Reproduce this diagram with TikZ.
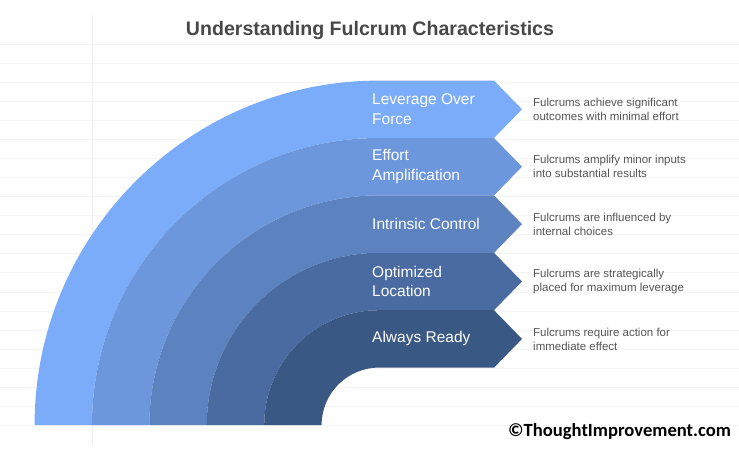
\documentclass[tikz,border=0pt]{standalone}
\usepackage{fontspec}
\setmainfont{Liberation Sans}
\newfontfamily\wmfont{Carlito}
\definecolor{bandA}{HTML}{7BACFA}
\definecolor{bandB}{HTML}{6C97DD}
\definecolor{bandC}{HTML}{5D82C0}
\definecolor{bandD}{HTML}{4A6BA1}
\definecolor{bandE}{HTML}{3A5884}
\definecolor{titlegray}{HTML}{484848}
\definecolor{descgray}{HTML}{555555}
\definecolor{paperline}{HTML}{F4F4F4}
\definecolor{marginline}{HTML}{F6ECEE}
\newcommand\fulband[3]{%
  \fill[#3] (379-#1,26) arc[start angle=180,end angle=90,radius=#1pt]
    -- (494,26+#1) -- (522,{26+(#1+#2)/2}) -- (494,26+#2) -- (379,26+#2)
    arc[start angle=90,end angle=180,radius=#2pt] -- cycle;}
\begin{document}
\begin{tikzpicture}[x=1pt,y=1pt,
  labeltext/.style={anchor=west,align=left,inner sep=0pt,text=white,font=\fontsize{15.5}{19.5}\selectfont},
  desctext/.style={anchor=west,align=left,inner sep=0pt,text=descgray,font=\fontsize{11.5}{14}\selectfont}]
\useasboundingbox (0,0) rectangle (739,451);
\fill[white] (0,0) rectangle (739,451);
\foreach \k in {0,...,20} {\draw[paperline,line width=0.8pt] (0,{451-44-19.07*\k}) -- (739,{451-44-19.07*\k});}
\draw[marginline,line width=0.8pt] (92,6) -- (92,436);
\node[font=\bfseries\fontsize{19.6}{23}\selectfont,text=titlegray] (title) at (370,421) {Understanding Fulcrum Characteristics};
\fulband{344.4}{287}{bandA}
\fulband{287}{229.6}{bandB}
\fulband{229.6}{172.2}{bandC}
\fulband{172.2}{114.8}{bandD}
\fulband{114.8}{57.4}{bandE}
\node[labeltext] (lab1) at (372,341.7) {Leverage Over\\Force};
\node[labeltext] (lab2) at (372,284.3) {Effort\\Amplification};
\node[labeltext] (lab3) at (372,226.9) {Intrinsic Control};
\node[labeltext] (lab4) at (372,169.5) {Optimized\\Location};
\node[labeltext] (lab5) at (372,112.1) {Always Ready};
\node[desctext] (desc1) at (533,341.7) {Fulcrums achieve significant\\outcomes with minimal effort};
\node[desctext] (desc2) at (533,284.3) {Fulcrums amplify minor inputs\\into substantial results};
\node[desctext] (desc3) at (533,226.9) {Fulcrums are influenced by\\internal choices};
\node[desctext] (desc4) at (533,169.5) {Fulcrums are strategically\\placed for maximum leverage};
\node[desctext] (desc5) at (533,112.1) {Fulcrums require action for\\immediate effect};
\node[anchor=west,inner sep=0pt,font=\wmfont\bfseries\fontsize{18.6}{22}\selectfont] (wm) at (508,19) {©ThoughtImprovement.com};
\end{tikzpicture}
\end{document}
